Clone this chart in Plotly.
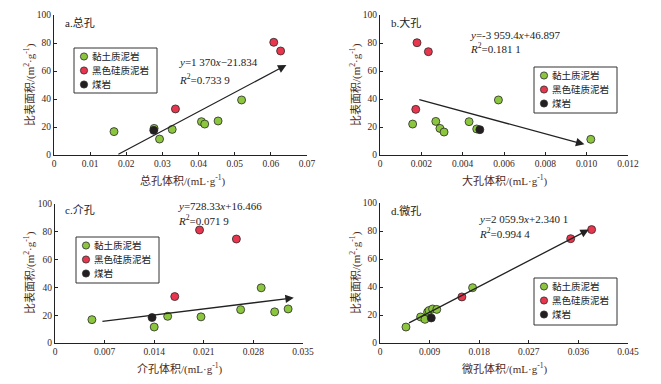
import plotly.graph_objects as go

# ---------------- data ----------------
categories = ["黏土质泥岩", "黑色硅质泥岩", "煤岩"]
colors = ["#8cc63f", "#e8364e", "#231f20"]

# specific surface area (m2/g) per sample, by category
ssa_clay = [16.7, 19.0, 11.4, 18.3, 23.8, 22.1, 24.3, 39.3]
ssa_red = [32.9, 80.5, 74.3]
ssa_coal = [17.6]

# panel a: total pore volume
a_clay_x = [0.0166, 0.0277, 0.0292, 0.0327, 0.0408, 0.0417, 0.0454, 0.0519]
a_red_x = [0.0336, 0.0608, 0.0627]
a_coal_x = [0.0276]

# panel b: macropore volume
b_clay_x = [0.00158, 0.0027, 0.0029, 0.0031, 0.00431, 0.00468, 0.00573, 0.0102]
b_clay_y = [22.1, 24.0, 19.0, 16.4, 23.8, 18.6, 39.3, 11.2]
b_red_x = [0.00173, 0.00179, 0.00234]
b_red_y = [32.6, 80.2, 73.8]
b_coal_x = [0.00483]
b_coal_y = [18.1]

# panel c: mesopore volume
c_clay_x = [0.00521, 0.0140, 0.0159, 0.0206, 0.0262, 0.0291, 0.0310, 0.0329]
c_clay_y = [16.8, 11.5, 19.2, 18.8, 24.0, 39.7, 22.4, 24.5]
c_red_x = [0.0169, 0.0204, 0.0256]
c_red_y = [33.4, 81.3, 74.8]
c_coal_x = [0.0137]
c_coal_y = [18.3]

# panel d: micropore volume
d_clay_x = [0.00471, 0.00737, 0.00815, 0.00864, 0.0089, 0.00954, 0.0103, 0.0168]
d_clay_y = [11.4, 18.6, 16.9, 22.1, 23.2, 24.3, 24.0, 39.5]
d_red_x = [0.01486, 0.0346, 0.0384]
d_red_y = [32.9, 74.5, 81.0]
d_coal_x = [0.0093]
d_coal_y = [17.9]

# trend arrows (start -> end) in data units
arrow_x0 = [0.0174, 0.00183, 0.00648, 0.0050]
arrow_y0 = [0.0, 39.8, 15.4, 13.8]
arrow_x1 = [0.0643, 0.00989, 0.0337, 0.0379]
arrow_y1 = [64.3, 7.6, 32.5, 81.0]

panel_titles = ["a.总孔", "b.大孔", "c.介孔", "d.微孔"]
x_titles = ["总孔体积/(mL·g<sup>-1</sup>)", "大孔体积/(mL·g<sup>-1</sup>)",
            "介孔体积/(mL·g<sup>-1</sup>)", "微孔体积/(mL·g<sup>-1</sup>)"]
y_title = "比表面积/(m<sup>2</sup>·g<sup>-1</sup>)"
eq_lines = ["<i>y</i>=1 370<i>x</i>−21.834", "<i>y</i>=-3 959.4<i>x</i>+46.897",
            "<i>y</i>=728.33<i>x</i>+16.466", "<i>y</i>=2 059.9<i>x</i>+2.340 1"]
r2_lines = ["<i>R</i><sup>2</sup>=0.733 9", "<i>R</i><sup>2</sup>=0.181 1",
            "<i>R</i><sup>2</sup>=0.071 9", "<i>R</i><sup>2</sup>=0.994 4"]

x_tickvals = [[0, 0.01, 0.02, 0.03, 0.04, 0.05, 0.06, 0.07],
              [0, 0.002, 0.004, 0.006, 0.008, 0.010, 0.012],
              [0, 0.007, 0.014, 0.021, 0.028, 0.035],
              [0, 0.009, 0.018, 0.027, 0.036, 0.045]]
x_ticktext = [["0", "0.01", "0.02", "0.03", "0.04", "0.05", "0.06", "0.07"],
              ["0", "0.002", "0.004", "0.006", "0.008", "0.010", "0.012"],
              ["0", "0.007", "0.014", "0.021", "0.028", "0.035"],
              ["0", "0.009", "0.018", "0.027", "0.036", "0.045"]]
y_tickvals = [0, 20, 40, 60, 80, 100]

# ---------------- layout geometry (page pixels) ----------------
OFF = 8                       # default body margin of the html page
W, H = 661 - 2 * OFF, 384 - 2 * OFF


def px(x):
    return (x - OFF) / W


def py(y):
    return 1 - (y - OFF) / H


plot_boxes = [(54, 15, 307, 155), (380, 15, 628, 155), (55, 204, 303, 343), (380, 203, 628, 343)]
legend_box = [(74, 48, 157, 93), (534, 67, 617, 113), (76, 237, 159, 283), (534, 278, 617, 325)]
title_pos = [(63, 22), (389, 22), (63, 210), (389, 210)]
eq_pos = [(177, 62, 79), (468, 35, 48), (176, 206, 220), (477, 219, 233)]
xtitle_pos = [(183, 181), (505, 181), (180, 368), (505, 368)]
ytitle_pos = [(29, 85), (355, 85), (29, 273), (355, 273)]

SERIF = "Liberation Serif, Noto Sans CJK SC"
TXT = "#3a2620"
TITLE_C = "#4e2a22"

panels = [
    (a_clay_x, ssa_clay, a_red_x, ssa_red, a_coal_x, ssa_coal),
    (b_clay_x, b_clay_y, b_red_x, b_red_y, b_coal_x, b_coal_y),
    (c_clay_x, c_clay_y, c_red_x, c_red_y, c_coal_x, c_coal_y),
    (d_clay_x, d_clay_y, d_red_x, d_red_y, d_coal_x, d_coal_y),
]

fig = go.Figure()
annotations = []
shapes = []
layout = {}
for i, p in enumerate(panels):
    sfx = "" if i == 0 else str(i + 1)
    xa, ya = "x" + sfx, "y" + sfx
    series = [(p[0], p[1]), (p[2], p[3]), (p[4], p[5])]
    for k, (xs, ys) in enumerate(series):
        fig.add_trace(go.Scatter(
            x=xs, y=ys, mode="markers", name=categories[k],
            marker=dict(size=8, color=colors[k], line=dict(width=0.8, color="#2a2a2a")),
            xaxis=xa, yaxis=ya, showlegend=False, cliponaxis=False))
    x0p, y0p, x1p, y1p = plot_boxes[i]
    layout["xaxis" + sfx] = dict(
        domain=[px(x0p), px(x1p)], anchor=ya, range=[0, x_tickvals[i][-1]], automargin=False,
        tickvals=x_tickvals[i], ticktext=x_ticktext[i], ticks="inside", ticklen=3,
        tickcolor="#222", showline=True, linecolor="#222", linewidth=1,
        showgrid=False, zeroline=False, tickfont=dict(family=SERIF, size=9.5, color=TXT))
    layout["yaxis" + sfx] = dict(
        domain=[py(y1p), py(y0p)], anchor=xa, range=[0, 100], tickvals=y_tickvals,
        automargin=False, ticks="inside", ticklen=3, tickcolor="#222", showline=True,
        linecolor="#222", linewidth=1, showgrid=False, zeroline=False,
        tickfont=dict(family=SERIF, size=9.5, color=TXT))

    # legend box, drawn by hand so its rows are as tight as the reference
    bx0, by0, bx1, by1 = legend_box[i]
    shapes.append(dict(type="rect", xref="paper", yref="paper",
                       x0=px(bx0), x1=px(bx1), y0=py(by1), y1=py(by0),
                       line=dict(color="#333", width=1), fillcolor="white", layer="below"))
    for k, name in enumerate(categories):
        cy = by0 + 8.5 + 14 * k
        cx = bx0 + 10
        r = 3.6
        shapes.append(dict(type="circle", xref="paper", yref="paper",
                           x0=px(cx - r), x1=px(cx + r), y0=py(cy + r), y1=py(cy - r),
                           fillcolor=colors[k], line=dict(color="#2a2a2a", width=0.8)))
        annotations.append(dict(x=px(bx0 + 16), y=py(cy), xref="paper", yref="paper",
                                text=name, showarrow=False, xanchor="left", yanchor="middle",
                                font=dict(family=SERIF, size=9.5, color="#222")))

    # arrow
    annotations.append(dict(
        x=arrow_x1[i], y=arrow_y1[i], ax=arrow_x0[i], ay=arrow_y0[i],
        xref=xa, yref=ya, axref=xa, ayref=ya, showarrow=True, arrowhead=2,
        arrowsize=1.3, arrowwidth=1.3, arrowcolor="#222", text=""))
    tx, ty = title_pos[i]
    annotations.append(dict(x=px(tx), y=py(ty), xref="paper", yref="paper",
                            text=panel_titles[i], showarrow=False, xanchor="left",
                            yanchor="middle", font=dict(family=SERIF, size=11, color="#222")))
    ex, ey1, ey2 = eq_pos[i]
    annotations.append(dict(x=px(ex), y=py(ey1), xref="paper", yref="paper",
                            text=eq_lines[i], showarrow=False, xanchor="left",
                            yanchor="middle", font=dict(family=SERIF, size=11, color="#222")))
    annotations.append(dict(x=px(ex), y=py(ey2), xref="paper", yref="paper",
                            text=r2_lines[i], showarrow=False, xanchor="left",
                            yanchor="middle", font=dict(family=SERIF, size=11, color="#222")))
    xtx, xty = xtitle_pos[i]
    annotations.append(dict(x=px(xtx), y=py(xty), xref="paper", yref="paper",
                            text=x_titles[i], showarrow=False, xanchor="center",
                            yanchor="middle", font=dict(family=SERIF, size=11, color=TITLE_C)))
    ytx, yty = ytitle_pos[i]
    annotations.append(dict(x=px(ytx), y=py(yty), xref="paper", yref="paper",
                            text=y_title, showarrow=False, xanchor="center",
                            yanchor="middle", textangle=-90,
                            font=dict(family=SERIF, size=11, color=TITLE_C)))

fig.update_layout(
    width=W, height=H, margin=dict(l=0, r=0, t=0, b=0, autoexpand=False),
    paper_bgcolor="white", plot_bgcolor="white", showlegend=False,
    annotations=annotations, shapes=shapes, **layout)

fig.write_html("out.html")
